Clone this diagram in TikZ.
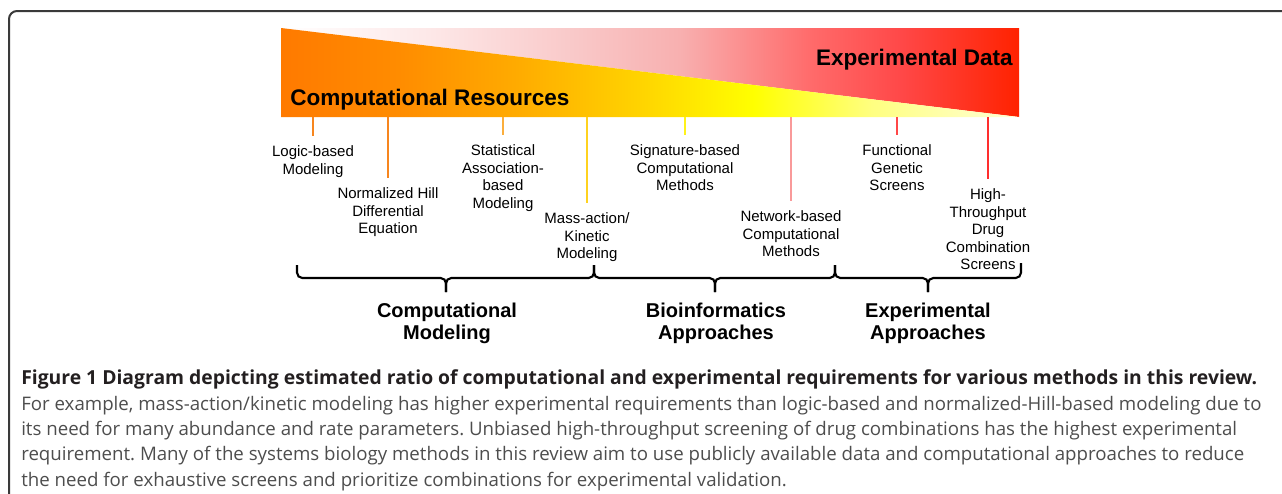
\documentclass[tikz,border=0pt]{standalone}
\usepackage{fontspec}
\setmainfont{Liberation Sans}
\newfontfamily\capfont{Open Sans}
\frenchspacing

\definecolor{frameGray}{HTML}{3A3A3A}
\definecolor{capBlack}{HTML}{231F20}
\definecolor{capGray}{HTML}{4D4D4D}
\definecolor{tickOrange}{HTML}{F7861E}
\definecolor{tickAmber}{HTML}{FBAE3C}
\definecolor{tickGold}{HTML}{FFD21F}
\definecolor{tickYellow}{HTML}{FFF21A}
\definecolor{tickSalmon}{HTML}{F99A9A}
\definecolor{tickRed}{HTML}{FF4747}
\definecolor{tickDeepRed}{HTML}{FF2E2E}

% computational resources: orange -> yellow -> pale
\pgfdeclarehorizontalshading{resources}{100bp}{color(0bp)=(rgb,255:red,255;green,122;blue,0);
  color(25bp)=(rgb,255:red,255;green,122;blue,0);
  color(33bp)=(rgb,255:red,255;green,140;blue,0);
  color(41bp)=(rgb,255:red,255;green,171;blue,0);
  color(49bp)=(rgb,255:red,255;green,210;blue,0);
  color(57bp)=(rgb,255:red,255;green,255;blue,0);
  color(65bp)=(rgb,255:red,255;green,255;blue,128);
  color(75bp)=(rgb,255:red,255;green,255;blue,216);
  color(100bp)=(rgb,255:red,255;green,255;blue,216)}
% experimental data: white -> pink -> red
\pgfdeclarehorizontalshading{expdata}{100bp}{color(0bp)=(white);
  color(25bp)=(white);
  color(35bp)=(rgb,255:red,253;green,232;blue,232);
  color(45bp)=(rgb,255:red,249;green,200;blue,200);
  color(52bp)=(rgb,255:red,248;green,176;blue,176);
  color(61bp)=(rgb,255:red,255;green,106;blue,106);
  color(67bp)=(rgb,255:red,255;green,72;blue,72);
  color(75bp)=(rgb,255:red,255;green,34;blue,0);
  color(100bp)=(rgb,255:red,255;green,34;blue,0)}

\begin{document}
\begin{tikzpicture}[x=0.75pt,y=-0.75pt]
\tikzstyle{banner}=[inner sep=0pt,font=\bfseries\fontsize{16.9}{20}\selectfont]
\tikzstyle{method}=[anchor=north,align=center,inner sep=0pt,font=\fontsize{11.25}{13.1}\selectfont]
\tikzstyle{tick}=[draw,line width=1.5pt,shorten >=7.5pt]
\tikzstyle{curly}=[draw,line width=1.6pt,rounded corners=4pt]
\tikzstyle{group}=[anchor=north,align=center,inner sep=0pt,font=\bfseries\fontsize{15}{16.5}\selectfont]
    \useasboundingbox (0,0) rectangle (1282,493);
    \draw[line width=1.5pt,frameGray,rounded corners=6pt] (9,500) |- (1290,11);

    % the two wedges
    \shade[shading=expdata] (281,28) -- (1019,28) -- (1019,117) -- cycle;
    \shade[shading=resources] (281,28) -- (1019,117) -- (281,117) -- cycle;
    \node[banner,anchor=base east] (data) at (1013,65) {Experimental Data};
    \node[banner,anchor=base west] (resources) at (290,105) {Computational Resources};

    % methods hanging from the wedges
    \coordinate (t1) at (313,117);
    \coordinate (t2) at (388,117);
    \coordinate (t3) at (503,117);
    \coordinate (t4) at (587,117);
    \coordinate (t5) at (685,117);
    \coordinate (t6) at (791,117);
    \coordinate (t7) at (897,117);
    \coordinate (t8) at (988,117);
    \node[method] (logic) at (313,145.5) {Logic-based\\Modeling};
    \node[method] (hill) at (388,187.5) {Normalized Hill\\Differential\\Equation};
    \node[method] (stat) at (503,144.5) {Statistical\\Association-\\based\\Modeling};
    \node[method] (kinetic) at (587,212.5) {Mass-action/\\Kinetic\\Modeling};
    \node[method] (signature) at (685,144.5) {Signature-based\\Computational\\Methods};
    \node[method] (network) at (791,210.5) {Network-based\\Computational\\Methods};
    \node[method] (genetic) at (897,144.5) {Functional\\Genetic\\Screens};
    \node[method] (screens) at (988,188.5) {High-\\Throughput\\Drug\\Combination\\Screens};
    \path (t1) edge [tick,tickOrange] (logic);
    \path (t2) edge [tick,tickOrange] (hill);
    \path (t3) edge [tick,tickAmber] (stat);
    \path (t4) edge [tick,tickGold] (kinetic);
    \path (t5) edge [tick,tickYellow] (signature);
    \path (t6) edge [tick,tickSalmon] (network);
    \path (t7) edge [tick,tickRed] (genetic);
    \path (t8) edge [tick,tickDeepRed] (screens);

    % groups: brace ends, bends and tips
    \coordinate (b0) at (297,265);
    \coordinate (b1) at (594,265);
    \coordinate (b2) at (835,265);
    \coordinate (b3) at (1021,263);
    \coordinate (m1) at (446,278);
    \coordinate (m2) at (715,278);
    \coordinate (m3) at (928,278);
    \coordinate (c1) at (446,292);
    \coordinate (c2) at (715,292);
    \coordinate (c3) at (928,292);
    \draw[curly] (b0) |- (m1) -- (c1);
    \draw[curly] (b1) |- (m1) -- (c1);
    \draw[curly] (b1) |- (m2) -- (c2);
    \draw[curly] (b2) |- (m2) -- (c2);
    \draw[curly] (b2) |- (m3) -- (c3);
    \draw[curly] (b3) |- (m3) -- (c3);
    \node[group] (compmod) at (447,302.6) {Computational\\Modeling};
    \node[group] (bioinf) at (716,302.6) {Bioinformatics\\Approaches};
    \node[group] (expappr) at (928,302.6) {Experimental\\Approaches};

    \node[anchor=north west,inner sep=0pt,align=left,text=capGray,
      font=\capfont\fontsize{14}{19.1}\selectfont] (caption) at (21,369.5)
      {{\bfseries\fontsize{14.5}{19.1}\selectfont\color{capBlack}Figure 1 Diagram depicting estimated ratio of computational and experimental requirements for various methods in this review.}\\
      For example, mass-action/kinetic modeling has higher experimental requirements than logic-based and normalized-Hill-based modeling due to\\
      its need for many abundance and rate parameters. Unbiased high-throughput screening of drug combinations has the highest experimental\\
      requirement. Many of the systems biology methods in this review aim to use publicly available data and computational approaches to reduce\\
      the need for exhaustive screens and prioritize combinations for experimental validation.};
\end{tikzpicture}
\end{document}
